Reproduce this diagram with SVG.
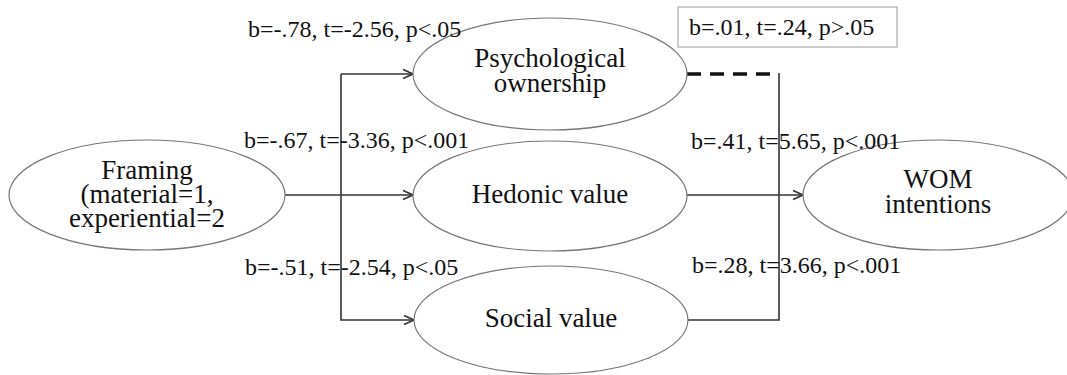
<svg xmlns="http://www.w3.org/2000/svg" width="1067" height="375" viewBox="0 0 1067 375">
<defs>
<style>
.node{fill:#fff;stroke:#777;stroke-width:1.2}
.nt{font-family:"Liberation Serif","Times New Roman",serif;font-size:27px;fill:#111;text-anchor:middle}
.lb{font-family:"Liberation Serif","Times New Roman",serif;font-size:24px;fill:#111}
.ln{fill:none;stroke:#333;stroke-width:1.6}
.dash{fill:none;stroke:#111;stroke-width:3.5;stroke-dasharray:14 9}
.box{fill:#fff;stroke:#aaa;stroke-width:1.2}
</style>
<marker id="arr" viewBox="0 0 12 12" refX="11" refY="6" markerWidth="12" markerHeight="12" markerUnits="userSpaceOnUse" orient="auto">
<path d="M1,1.5 L11,6 L1,10.5" fill="none" stroke="#333" stroke-width="1.6"/>
</marker>
</defs>
<rect width="1067" height="375" fill="#fff"/>
<g id="connectors">
<path class="ln" d="M285,195 L413,195" marker-end="url(#arr)"/>
<path class="ln" d="M341,74 L341,320 L414,320" marker-end="url(#arr)"/>
<path class="ln" d="M341,74 L413,74" marker-end="url(#arr)"/>
<path class="dash" d="M687,74 L779,74"/>
<path class="ln" d="M779,73 L779,320 L688,320"/>
<path class="ln" d="M687,195 L803,195" marker-end="url(#arr)"/>
</g>
<g id="framing">
<ellipse class="node" cx="147" cy="195" rx="138" ry="55"/>
<text class="nt" x="147" y="179">Framing</text>
<text class="nt" x="147" y="203">(material=1,</text>
<text class="nt" x="147" y="227">experiential=2</text>
</g>
<g id="psych">
<ellipse class="node" cx="550" cy="74" rx="137" ry="56"/>
<text class="nt" x="550" y="67">Psychological</text>
<text class="nt" x="550" y="92">ownership</text>
</g>
<g id="hedonic">
<ellipse class="node" cx="550" cy="196" rx="137" ry="55"/>
<text class="nt" x="550" y="203">Hedonic value</text>
</g>
<g id="social">
<ellipse class="node" cx="551" cy="320" rx="137" ry="54"/>
<text class="nt" x="551" y="327">Social value</text>
</g>
<g id="wom">
<ellipse class="node" cx="938" cy="195" rx="135" ry="55"/>
<text class="nt" x="938" y="188">WOM</text>
<text class="nt" x="938" y="213">intentions</text>
</g>
<g id="labels">
<text class="lb" x="248" y="37">b=-.78, t=-2.56, p&lt;.05</text>
<text class="lb" x="244" y="148">b=-.67, t=-3.36, p&lt;.001</text>
<text class="lb" x="245" y="275">b=-.51, t=-2.54, p&lt;.05</text>
<text class="lb" x="691" y="149">b=.41, t=5.65, p&lt;.001</text>
<text class="lb" x="692" y="273">b=.28, t=3.66, p&lt;.001</text>
<rect class="box" x="678" y="7" width="219" height="40"/>
<text class="lb" x="689" y="35">b=.01, t=.24, p&gt;.05</text>
</g>
</svg>
